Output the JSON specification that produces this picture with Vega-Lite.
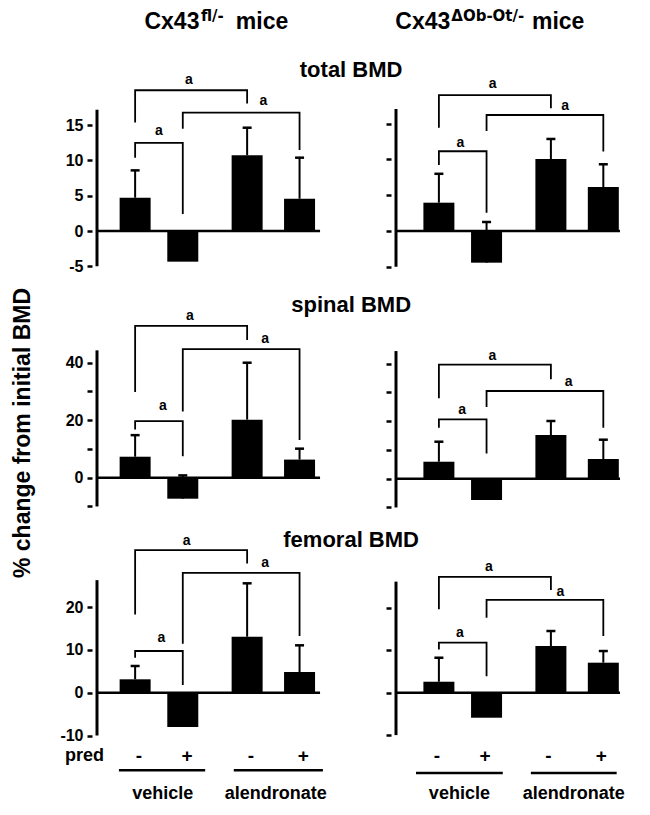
{
  "$schema": "https://vega.github.io/schema/vega-lite/v6.json",
  "background": "white",
  "padding": {"left": 11, "top": 8, "right": 0, "bottom": 0},
  "columns": 2,
  "bounds": "flush",
  "spacing": {"row": 0, "column": 65},
  "datasets": {
    "bars": [
      {"p":"1L","x":1,"y":4.72,"e":8.6},
      {"p":"1L","x":2,"y":-4.35,"e":null},
      {"p":"1L","x":3.35,"y":10.74,"e":14.65},
      {"p":"1L","x":4.45,"y":4.58,"e":10.4},
      {"p":"1R","x":1,"y":3.96,"e":8.0},
      {"p":"1R","x":2,"y":-4.43,"e":1.26},
      {"p":"1R","x":3.35,"y":10.07,"e":12.87},
      {"p":"1R","x":4.45,"y":6.15,"e":9.33},
      {"p":"2L","x":1,"y":7.3,"e":14.8},
      {"p":"2L","x":2,"y":-7.3,"e":0.8},
      {"p":"2L","x":3.35,"y":20.2,"e":40.0},
      {"p":"2L","x":4.45,"y":6.3,"e":10.1},
      {"p":"2R","x":1,"y":5.91,"e":12.87},
      {"p":"2R","x":2,"y":-7.41,"e":null},
      {"p":"2R","x":3.35,"y":15.2,"e":20.07},
      {"p":"2R","x":4.45,"y":6.85,"e":13.57},
      {"p":"3L","x":1,"y":3.13,"e":6.24},
      {"p":"3L","x":2,"y":-8.0,"e":null},
      {"p":"3L","x":3.35,"y":13.08,"e":25.56},
      {"p":"3L","x":4.45,"y":4.84,"e":11.07},
      {"p":"3R","x":1,"y":2.59,"e":8.25},
      {"p":"3R","x":2,"y":-5.9,"e":null},
      {"p":"3R","x":3.35,"y":11.0,"e":14.55},
      {"p":"3R","x":4.45,"y":7.08,"e":9.83}
    ],
    "brk": [
      {"p":"1L","b":1,"i":0,"x":1,"y":15.4},{"p":"1L","b":1,"i":1,"x":1,"y":19.96},{"p":"1L","b":1,"i":2,"x":3.35,"y":19.96},{"p":"1L","b":1,"i":3,"x":3.35,"y":18.1},
      {"p":"1L","b":2,"i":0,"x":2,"y":14.5},{"p":"1L","b":2,"i":1,"x":2,"y":16.8},{"p":"1L","b":2,"i":2,"x":4.45,"y":16.8},{"p":"1L","b":2,"i":3,"x":4.45,"y":11.5},
      {"p":"1L","b":3,"i":0,"x":1,"y":10.4},{"p":"1L","b":3,"i":1,"x":1,"y":12.5},{"p":"1L","b":3,"i":2,"x":2,"y":12.5},{"p":"1L","b":3,"i":3,"x":2,"y":2.4},
      {"p":"1R","b":1,"i":0,"x":1,"y":14.45},{"p":"1R","b":1,"i":1,"x":1,"y":19.0},{"p":"1R","b":1,"i":2,"x":3.35,"y":19.0},{"p":"1R","b":1,"i":3,"x":3.35,"y":17.16},
      {"p":"1R","b":2,"i":0,"x":2,"y":14.0},{"p":"1R","b":2,"i":1,"x":2,"y":16.22},{"p":"1R","b":2,"i":2,"x":4.45,"y":16.22},{"p":"1R","b":2,"i":3,"x":4.45,"y":11.1},
      {"p":"1R","b":3,"i":0,"x":1,"y":9.23},{"p":"1R","b":3,"i":1,"x":1,"y":11.15},{"p":"1R","b":3,"i":2,"x":2,"y":11.15},{"p":"1R","b":3,"i":3,"x":2,"y":2.56},
      {"p":"2L","b":1,"i":0,"x":1,"y":29.8},{"p":"2L","b":1,"i":1,"x":1,"y":52.8},{"p":"2L","b":1,"i":2,"x":3.35,"y":52.8},{"p":"2L","b":1,"i":3,"x":3.35,"y":47.9},
      {"p":"2L","b":2,"i":0,"x":2,"y":23.0},{"p":"2L","b":2,"i":1,"x":2,"y":44.7},{"p":"2L","b":2,"i":2,"x":4.45,"y":44.7},{"p":"2L","b":2,"i":3,"x":4.45,"y":13.1},
      {"p":"2L","b":3,"i":0,"x":1,"y":16.8},{"p":"2L","b":3,"i":1,"x":1,"y":19.7},{"p":"2L","b":3,"i":2,"x":2,"y":19.7},{"p":"2L","b":3,"i":3,"x":2,"y":7.5},
      {"p":"2R","b":1,"i":0,"x":1,"y":27.97},{"p":"2R","b":1,"i":1,"x":1,"y":39.65},{"p":"2R","b":1,"i":2,"x":3.35,"y":39.65},{"p":"2R","b":1,"i":3,"x":3.35,"y":34.57},
      {"p":"2R","b":2,"i":0,"x":2,"y":24.9},{"p":"2R","b":2,"i":1,"x":2,"y":30.5},{"p":"2R","b":2,"i":2,"x":4.45,"y":30.5},{"p":"2R","b":2,"i":3,"x":4.45,"y":17.7},
      {"p":"2R","b":3,"i":0,"x":1,"y":17.7},{"p":"2R","b":3,"i":1,"x":1,"y":20.66},{"p":"2R","b":3,"i":2,"x":2,"y":20.66},{"p":"2R","b":3,"i":3,"x":2,"y":8.8},
      {"p":"3L","b":1,"i":0,"x":1,"y":18.3},{"p":"3L","b":1,"i":1,"x":1,"y":33.3},{"p":"3L","b":1,"i":2,"x":3.35,"y":33.3},{"p":"3L","b":1,"i":3,"x":3.35,"y":30.2},
      {"p":"3L","b":2,"i":0,"x":2,"y":11.45},{"p":"3L","b":2,"i":1,"x":2,"y":28.0},{"p":"3L","b":2,"i":2,"x":4.45,"y":28.0},{"p":"3L","b":2,"i":3,"x":4.45,"y":13.25},
      {"p":"3L","b":3,"i":0,"x":1,"y":8.18},{"p":"3L","b":3,"i":1,"x":1,"y":9.74},{"p":"3L","b":3,"i":2,"x":2,"y":9.74},{"p":"3L","b":3,"i":3,"x":2,"y":1.8},
      {"p":"3R","b":1,"i":0,"x":1,"y":19.7},{"p":"3R","b":1,"i":1,"x":1,"y":27.3},{"p":"3R","b":1,"i":2,"x":3.35,"y":27.3},{"p":"3R","b":1,"i":3,"x":3.35,"y":24.2},
      {"p":"3R","b":2,"i":0,"x":2,"y":17.7},{"p":"3R","b":2,"i":1,"x":2,"y":21.9},{"p":"3R","b":2,"i":2,"x":4.45,"y":21.9},{"p":"3R","b":2,"i":3,"x":4.45,"y":13.4},
      {"p":"3R","b":3,"i":0,"x":1,"y":10.2},{"p":"3R","b":3,"i":1,"x":1,"y":11.8},{"p":"3R","b":3,"i":2,"x":2,"y":11.8},{"p":"3R","b":3,"i":3,"x":2,"y":3.9}
    ],
    "sig": [
      {"p":"1L","x":2.13,"y":21.4},{"p":"1L","x":3.69,"y":18.4},{"p":"1L","x":1.5,"y":14.2},
      {"p":"1R","x":2.13,"y":20.5},{"p":"1R","x":3.65,"y":17.5},{"p":"1R","x":1.45,"y":12.35},
      {"p":"2L","x":2.15,"y":56.3},{"p":"2L","x":3.73,"y":48.3},{"p":"2L","x":1.58,"y":24.9},
      {"p":"2R","x":2.12,"y":42.7},{"p":"2R","x":3.72,"y":33.6},{"p":"2R","x":1.49,"y":23.8},
      {"p":"3L","x":2.08,"y":35.4},{"p":"3L","x":3.73,"y":30.4},{"p":"3L","x":1.55,"y":12.7},
      {"p":"3R","x":2.05,"y":29.7},{"p":"3R","x":3.55,"y":23.8},{"p":"3R","x":1.44,"y":14.0}
    ],
    "hr": [
      {"p":"1L","x":0.2,"x2":4.88,"y":0},
      {"p":"1R","x":0.1,"x2":4.8,"y":0},
      {"p":"2L","x":0.2,"x2":4.88,"y":0},
      {"p":"2R","x":0.1,"x2":4.8,"y":0},
      {"p":"3L","x":0.2,"x2":4.88,"y":0},
      {"p":"3R","x":0.1,"x2":4.8,"y":0},
      {"p":"3L","x":0.66,"x2":2.47,"y":-18.13},
      {"p":"3L","x":3.07,"x2":4.94,"y":-18.13},
      {"p":"3R","x":0.52,"x2":2.34,"y":-18.94},
      {"p":"3R","x":2.93,"x2":4.73,"y":-18.94}
    ],
    "vr": [
      {"p":"1L","x":0.2,"y":-5,"y2":17.2},
      {"p":"1R","x":0.1,"y":-5,"y2":17.06},
      {"p":"2L","x":0.2,"y":-10,"y2":44.3},
      {"p":"2R","x":0.1,"y":-10,"y2":44.4},
      {"p":"3L","x":0.2,"y":-10,"y2":26.3},
      {"p":"3R","x":0.1,"y":-10,"y2":26.2}
    ],
    "txt": [
      {"p":"1L","k":"headR","x":2.349,"y":28.61,"t":"Cx43"},
      {"p":"1L","k":"head","x":3.112,"y":28.61,"t":"mice"},
      {"p":"1L","k":"sup","x":2.38,"y":29.79,"t":"fl/-"},
      {"p":"1L","k":"row","x":5.532,"y":21.84,"t":"total BMD"},
      {"p":"1R","k":"headR","x":1.239,"y":28.21,"t":"Cx43"},
      {"p":"1R","k":"head","x":2.952,"y":28.21,"t":"mice"},
      {"p":"1R","k":"sup","x":1.26,"y":29.37,"t":"ΔOb-Ot/-"},
      {"p":"2L","k":"row","x":5.532,"y":57.63,"t":"spinal BMD"},
      {"p":"2L","k":"ylab","x":-1.206,"y":15.55,"t":"% change from initial BMD"},
      {"p":"3L","k":"row","x":5.532,"y":34.04,"t":"femoral BMD"},
      {"p":"3L","k":"lab","x":-0.061,"y":-14.86,"t":"pred"},
      {"p":"3L","k":"lab","x":1.58,"y":-23.57,"t":"vehicle"},
      {"p":"3L","k":"lab","x":3.95,"y":-23.57,"t":"alendronate"},
      {"p":"3L","k":"pm","x":1.08,"y":-14.9,"t":"-"},
      {"p":"3L","k":"pm","x":2.09,"y":-14.9,"t":"+"},
      {"p":"3L","k":"pm","x":3.43,"y":-14.9,"t":"-"},
      {"p":"3L","k":"pm","x":4.53,"y":-14.9,"t":"+"},
      {"p":"3R","k":"lab","x":1.43,"y":-23.87,"t":"vehicle"},
      {"p":"3R","k":"lab","x":3.83,"y":-23.87,"t":"alendronate"},
      {"p":"3R","k":"pm","x":0.96,"y":-14.93,"t":"-"},
      {"p":"3R","k":"pm","x":1.97,"y":-14.93,"t":"+"},
      {"p":"3R","k":"pm","x":3.3,"y":-14.93,"t":"-"},
      {"p":"3R","k":"pm","x":4.41,"y":-14.93,"t":"+"}
    ]
  },
  "concat": [
    {
      "width": 234, "height": 235,
      "encoding": {
        "x": {"field":"x","type":"quantitative","scale":{"domain":[0.2,4.9],"nice":false,"zero":false},"axis":null},
        "y": {"field":"y","type":"quantitative","scale":{"domain":[-7.80,25.53],"nice":false,"zero":false},"axis":{"values":[-5,0,5,10,15],"title":null,"labelExpr":"datum.value + ''"}}
      },
      "layer": [
        {"data":{"name":"hr"},"transform":[{"filter":"datum.p=='1L'"}],"mark":{"type":"rule","strokeWidth":2.5},"encoding":{"x2":{"field":"x2"}}},
        {"data":{"name":"vr"},"transform":[{"filter":"datum.p=='1L'"}],"mark":{"type":"rule","strokeWidth":3},"encoding":{"y2":{"field":"y2"}}},
        {"data":{"name":"bars"},"transform":[{"filter":"datum.p=='1L'"}],"mark":{"type":"bar","size":31,"orient":"vertical"},"encoding":{"y2":{"datum":0}}},
        {"data":{"name":"bars"},"transform":[{"filter":"datum.p=='1L' && datum.e != null"}],"mark":{"type":"rule","strokeWidth":2},"encoding":{"y2":{"field":"e"}}},
        {"data":{"name":"bars"},"transform":[{"filter":"datum.p=='1L' && datum.e != null"}],"mark":{"type":"tick","orient":"horizontal","size":9,"thickness":2.5,"opacity":1},"encoding":{"y":{"field":"e","type":"quantitative","axis":{"values":[-5,0,5,10,15],"title":null,"labelExpr":"datum.value + ''"}}}},
        {"data":{"name":"brk"},"transform":[{"filter":"datum.p=='1L'"}],"mark":{"type":"line","strokeWidth":1.8,"strokeJoin":"miter"},"encoding":{"detail":{"field":"b","type":"nominal"},"order":{"field":"i","type":"quantitative"}}},
        {"data":{"name":"sig"},"transform":[{"filter":"datum.p=='1L'"}],"mark":{"type":"text","fontSize":14,"baseline":"middle","align":"center"},"encoding":{"text":{"value":"a"}}},
        {"data":{"name":"txt"},"transform":[{"filter":"datum.p=='1L' && datum.k=='headR'"}],"mark":{"type":"text","fontSize":23,"align":"right","baseline":"alphabetic"},"encoding":{"text":{"field":"t","type":"nominal"}}},
        {"data":{"name":"txt"},"transform":[{"filter":"datum.p=='1L' && datum.k=='head'"}],"mark":{"type":"text","fontSize":23,"align":"left","baseline":"alphabetic"},"encoding":{"text":{"field":"t","type":"nominal"}}},
        {"data":{"name":"txt"},"transform":[{"filter":"datum.p=='1L' && datum.k=='sup'"}],"mark":{"type":"text","font":"DejaVu Sans","fontSize":15,"align":"left","baseline":"alphabetic"},"encoding":{"text":{"field":"t","type":"nominal"}}},
        {"data":{"name":"txt"},"transform":[{"filter":"datum.p=='1L' && datum.k=='row'"}],"mark":{"type":"text","fontSize":22,"align":"center","baseline":"alphabetic"},"encoding":{"text":{"field":"t","type":"nominal"}}}
      ]
    },
    {
      "width": 234, "height": 235,
      "encoding": {
        "x": {"field":"x","type":"quantitative","scale":{"domain":[0.1,4.8],"nice":false,"zero":false},"axis":null},
        "y": {"field":"y","type":"quantitative","scale":{"domain":[-7.69,25.17],"nice":false,"zero":false},"axis":{"values":[-5,0,5,10,15],"title":null,"labels":false}}
      },
      "layer": [
        {"data":{"name":"hr"},"transform":[{"filter":"datum.p=='1R'"}],"mark":{"type":"rule","strokeWidth":2.5},"encoding":{"x2":{"field":"x2"}}},
        {"data":{"name":"vr"},"transform":[{"filter":"datum.p=='1R'"}],"mark":{"type":"rule","strokeWidth":3},"encoding":{"y2":{"field":"y2"}}},
        {"data":{"name":"bars"},"transform":[{"filter":"datum.p=='1R'"}],"mark":{"type":"bar","size":31,"orient":"vertical"},"encoding":{"y2":{"datum":0}}},
        {"data":{"name":"bars"},"transform":[{"filter":"datum.p=='1R' && datum.e != null"}],"mark":{"type":"rule","strokeWidth":2},"encoding":{"y2":{"field":"e"}}},
        {"data":{"name":"bars"},"transform":[{"filter":"datum.p=='1R' && datum.e != null"}],"mark":{"type":"tick","orient":"horizontal","size":9,"thickness":2.5,"opacity":1},"encoding":{"y":{"field":"e","type":"quantitative","axis":{"values":[-5,0,5,10,15],"title":null,"labels":false}}}},
        {"data":{"name":"brk"},"transform":[{"filter":"datum.p=='1R'"}],"mark":{"type":"line","strokeWidth":1.8,"strokeJoin":"miter"},"encoding":{"detail":{"field":"b","type":"nominal"},"order":{"field":"i","type":"quantitative"}}},
        {"data":{"name":"sig"},"transform":[{"filter":"datum.p=='1R'"}],"mark":{"type":"text","fontSize":14,"baseline":"middle","align":"center"},"encoding":{"text":{"value":"a"}}},
        {"data":{"name":"txt"},"transform":[{"filter":"datum.p=='1R' && datum.k=='headR'"}],"mark":{"type":"text","fontSize":23,"align":"right","baseline":"alphabetic"},"encoding":{"text":{"field":"t","type":"nominal"}}},
        {"data":{"name":"txt"},"transform":[{"filter":"datum.p=='1R' && datum.k=='head'"}],"mark":{"type":"text","fontSize":23,"align":"left","baseline":"alphabetic"},"encoding":{"text":{"field":"t","type":"nominal"}}},
        {"data":{"name":"txt"},"transform":[{"filter":"datum.p=='1R' && datum.k=='sup'"}],"mark":{"type":"text","font":"DejaVu Sans","fontSize":15,"align":"left","baseline":"alphabetic"},"encoding":{"text":{"field":"t","type":"nominal"}}}
      ]
    },
    {
      "width": 234, "height": 235,
      "encoding": {
        "x": {"field":"x","type":"quantitative","scale":{"domain":[0.2,4.9],"nice":false,"zero":false},"axis":null},
        "y": {"field":"y","type":"quantitative","scale":{"domain":[-15.06,66.68],"nice":false,"zero":false},"axis":{"values":[-10,0,10,20,30,40],"title":null,"labelExpr":"datum.value==0 || datum.value==20 || datum.value==40 ? datum.value + '' : ''"}}
      },
      "layer": [
        {"data":{"name":"hr"},"transform":[{"filter":"datum.p=='2L'"}],"mark":{"type":"rule","strokeWidth":2.5},"encoding":{"x2":{"field":"x2"}}},
        {"data":{"name":"vr"},"transform":[{"filter":"datum.p=='2L'"}],"mark":{"type":"rule","strokeWidth":3},"encoding":{"y2":{"field":"y2"}}},
        {"data":{"name":"bars"},"transform":[{"filter":"datum.p=='2L'"}],"mark":{"type":"bar","size":31,"orient":"vertical"},"encoding":{"y2":{"datum":0}}},
        {"data":{"name":"bars"},"transform":[{"filter":"datum.p=='2L' && datum.e != null"}],"mark":{"type":"rule","strokeWidth":2},"encoding":{"y2":{"field":"e"}}},
        {"data":{"name":"bars"},"transform":[{"filter":"datum.p=='2L' && datum.e != null"}],"mark":{"type":"tick","orient":"horizontal","size":9,"thickness":2.5,"opacity":1},"encoding":{"y":{"field":"e","type":"quantitative","axis":{"values":[-10,0,10,20,30,40],"title":null,"labelExpr":"datum.value==0 || datum.value==20 || datum.value==40 ? datum.value + '' : ''"}}}},
        {"data":{"name":"brk"},"transform":[{"filter":"datum.p=='2L'"}],"mark":{"type":"line","strokeWidth":1.8,"strokeJoin":"miter"},"encoding":{"detail":{"field":"b","type":"nominal"},"order":{"field":"i","type":"quantitative"}}},
        {"data":{"name":"sig"},"transform":[{"filter":"datum.p=='2L'"}],"mark":{"type":"text","fontSize":14,"baseline":"middle","align":"center"},"encoding":{"text":{"value":"a"}}},
        {"data":{"name":"txt"},"transform":[{"filter":"datum.p=='2L' && datum.k=='row'"}],"mark":{"type":"text","fontSize":22,"align":"center","baseline":"alphabetic"},"encoding":{"text":{"field":"t","type":"nominal"}}},
        {"data":{"name":"txt"},"transform":[{"filter":"datum.p=='2L' && datum.k=='ylab'"}],"mark":{"type":"text","fontSize":23,"align":"center","baseline":"alphabetic","angle":270},"encoding":{"text":{"field":"t","type":"nominal"}}}
      ]
    },
    {
      "width": 234, "height": 235,
      "encoding": {
        "x": {"field":"x","type":"quantitative","scale":{"domain":[0.1,4.8],"nice":false,"zero":false},"axis":null},
        "y": {"field":"y","type":"quantitative","scale":{"domain":[-14.71,67.03],"nice":false,"zero":false},"axis":{"values":[-10,0,10,20,30,40],"title":null,"labels":false}}
      },
      "layer": [
        {"data":{"name":"hr"},"transform":[{"filter":"datum.p=='2R'"}],"mark":{"type":"rule","strokeWidth":2.5},"encoding":{"x2":{"field":"x2"}}},
        {"data":{"name":"vr"},"transform":[{"filter":"datum.p=='2R'"}],"mark":{"type":"rule","strokeWidth":3},"encoding":{"y2":{"field":"y2"}}},
        {"data":{"name":"bars"},"transform":[{"filter":"datum.p=='2R'"}],"mark":{"type":"bar","size":31,"orient":"vertical"},"encoding":{"y2":{"datum":0}}},
        {"data":{"name":"bars"},"transform":[{"filter":"datum.p=='2R' && datum.e != null"}],"mark":{"type":"rule","strokeWidth":2},"encoding":{"y2":{"field":"e"}}},
        {"data":{"name":"bars"},"transform":[{"filter":"datum.p=='2R' && datum.e != null"}],"mark":{"type":"tick","orient":"horizontal","size":9,"thickness":2.5,"opacity":1},"encoding":{"y":{"field":"e","type":"quantitative","axis":{"values":[-10,0,10,20,30,40],"title":null,"labels":false}}}},
        {"data":{"name":"brk"},"transform":[{"filter":"datum.p=='2R'"}],"mark":{"type":"line","strokeWidth":1.8,"strokeJoin":"miter"},"encoding":{"detail":{"field":"b","type":"nominal"},"order":{"field":"i","type":"quantitative"}}},
        {"data":{"name":"sig"},"transform":[{"filter":"datum.p=='2R'"}],"mark":{"type":"text","fontSize":14,"baseline":"middle","align":"center"},"encoding":{"text":{"value":"a"}}}
      ]
    },
    {
      "width": 234, "height": 235,
      "encoding": {
        "x": {"field":"x","type":"quantitative","scale":{"domain":[0.2,4.9],"nice":false,"zero":false},"axis":null},
        "y": {"field":"y","type":"quantitative","scale":{"domain":[-14.79,40.12],"nice":false,"zero":false},"axis":{"values":[-10,0,10,20],"title":null,"labelExpr":"datum.value + ''"}}
      },
      "layer": [
        {"data":{"name":"hr"},"transform":[{"filter":"datum.p=='3L'"}],"mark":{"type":"rule","strokeWidth":2.5},"encoding":{"x2":{"field":"x2"}}},
        {"data":{"name":"vr"},"transform":[{"filter":"datum.p=='3L'"}],"mark":{"type":"rule","strokeWidth":3},"encoding":{"y2":{"field":"y2"}}},
        {"data":{"name":"bars"},"transform":[{"filter":"datum.p=='3L'"}],"mark":{"type":"bar","size":31,"orient":"vertical"},"encoding":{"y2":{"datum":0}}},
        {"data":{"name":"bars"},"transform":[{"filter":"datum.p=='3L' && datum.e != null"}],"mark":{"type":"rule","strokeWidth":2},"encoding":{"y2":{"field":"e"}}},
        {"data":{"name":"bars"},"transform":[{"filter":"datum.p=='3L' && datum.e != null"}],"mark":{"type":"tick","orient":"horizontal","size":9,"thickness":2.5,"opacity":1},"encoding":{"y":{"field":"e","type":"quantitative","axis":{"values":[-10,0,10,20],"title":null,"labelExpr":"datum.value + ''"}}}},
        {"data":{"name":"brk"},"transform":[{"filter":"datum.p=='3L'"}],"mark":{"type":"line","strokeWidth":1.8,"strokeJoin":"miter"},"encoding":{"detail":{"field":"b","type":"nominal"},"order":{"field":"i","type":"quantitative"}}},
        {"data":{"name":"sig"},"transform":[{"filter":"datum.p=='3L'"}],"mark":{"type":"text","fontSize":14,"baseline":"middle","align":"center"},"encoding":{"text":{"value":"a"}}},
        {"data":{"name":"txt"},"transform":[{"filter":"datum.p=='3L' && datum.k=='row'"}],"mark":{"type":"text","fontSize":22,"align":"center","baseline":"alphabetic"},"encoding":{"text":{"field":"t","type":"nominal"}}},
        {"data":{"name":"txt"},"transform":[{"filter":"datum.p=='3L' && datum.k=='lab'"}],"mark":{"type":"text","fontSize":18,"align":"center","baseline":"middle"},"encoding":{"text":{"field":"t","type":"nominal"}}},
        {"data":{"name":"txt"},"transform":[{"filter":"datum.p=='3L' && datum.k=='pm'"}],"mark":{"type":"text","fontSize":19,"align":"center","baseline":"middle"},"encoding":{"text":{"field":"t","type":"nominal"}}}
      ]
    },
    {
      "width": 234, "height": 235,
      "encoding": {
        "x": {"field":"x","type":"quantitative","scale":{"domain":[0.1,4.8],"nice":false,"zero":false},"axis":null},
        "y": {"field":"y","type":"quantitative","scale":{"domain":[-14.93,40.5],"nice":false,"zero":false},"axis":{"values":[-10,0,10,20],"title":null,"labels":false}}
      },
      "layer": [
        {"data":{"name":"hr"},"transform":[{"filter":"datum.p=='3R'"}],"mark":{"type":"rule","strokeWidth":2.5},"encoding":{"x2":{"field":"x2"}}},
        {"data":{"name":"vr"},"transform":[{"filter":"datum.p=='3R'"}],"mark":{"type":"rule","strokeWidth":3},"encoding":{"y2":{"field":"y2"}}},
        {"data":{"name":"bars"},"transform":[{"filter":"datum.p=='3R'"}],"mark":{"type":"bar","size":31,"orient":"vertical"},"encoding":{"y2":{"datum":0}}},
        {"data":{"name":"bars"},"transform":[{"filter":"datum.p=='3R' && datum.e != null"}],"mark":{"type":"rule","strokeWidth":2},"encoding":{"y2":{"field":"e"}}},
        {"data":{"name":"bars"},"transform":[{"filter":"datum.p=='3R' && datum.e != null"}],"mark":{"type":"tick","orient":"horizontal","size":9,"thickness":2.5,"opacity":1},"encoding":{"y":{"field":"e","type":"quantitative","axis":{"values":[-10,0,10,20],"title":null,"labels":false}}}},
        {"data":{"name":"brk"},"transform":[{"filter":"datum.p=='3R'"}],"mark":{"type":"line","strokeWidth":1.8,"strokeJoin":"miter"},"encoding":{"detail":{"field":"b","type":"nominal"},"order":{"field":"i","type":"quantitative"}}},
        {"data":{"name":"sig"},"transform":[{"filter":"datum.p=='3R'"}],"mark":{"type":"text","fontSize":14,"baseline":"middle","align":"center"},"encoding":{"text":{"value":"a"}}},
        {"data":{"name":"txt"},"transform":[{"filter":"datum.p=='3R' && datum.k=='lab'"}],"mark":{"type":"text","fontSize":18,"align":"center","baseline":"middle"},"encoding":{"text":{"field":"t","type":"nominal"}}},
        {"data":{"name":"txt"},"transform":[{"filter":"datum.p=='3R' && datum.k=='pm'"}],"mark":{"type":"text","fontSize":19,"align":"center","baseline":"middle"},"encoding":{"text":{"field":"t","type":"nominal"}}}
      ]
    }
  ],
  "config": {
    "view": {"stroke": null},
    "font": "Liberation Sans",
    "text": {"font": "Liberation Sans", "fontWeight": "bold", "color": "black"},
    "rule": {"color": "black"},
    "line": {"color": "black"},
    "bar": {"color": "black"},
    "tick": {"color": "black"},
    "axis": {
      "domain": false, "grid": false, "ticks": true, "tickSize": 5, "tickWidth": 2.5, "tickColor": "black",
      "labelFont": "Liberation Sans", "labelFontSize": 16, "labelFontWeight": "bold", "labelColor": "black",
      "labelPadding": 4, "labelFlush": false, "labelOverlap": false, "labelBound": false
    }
  }
}
